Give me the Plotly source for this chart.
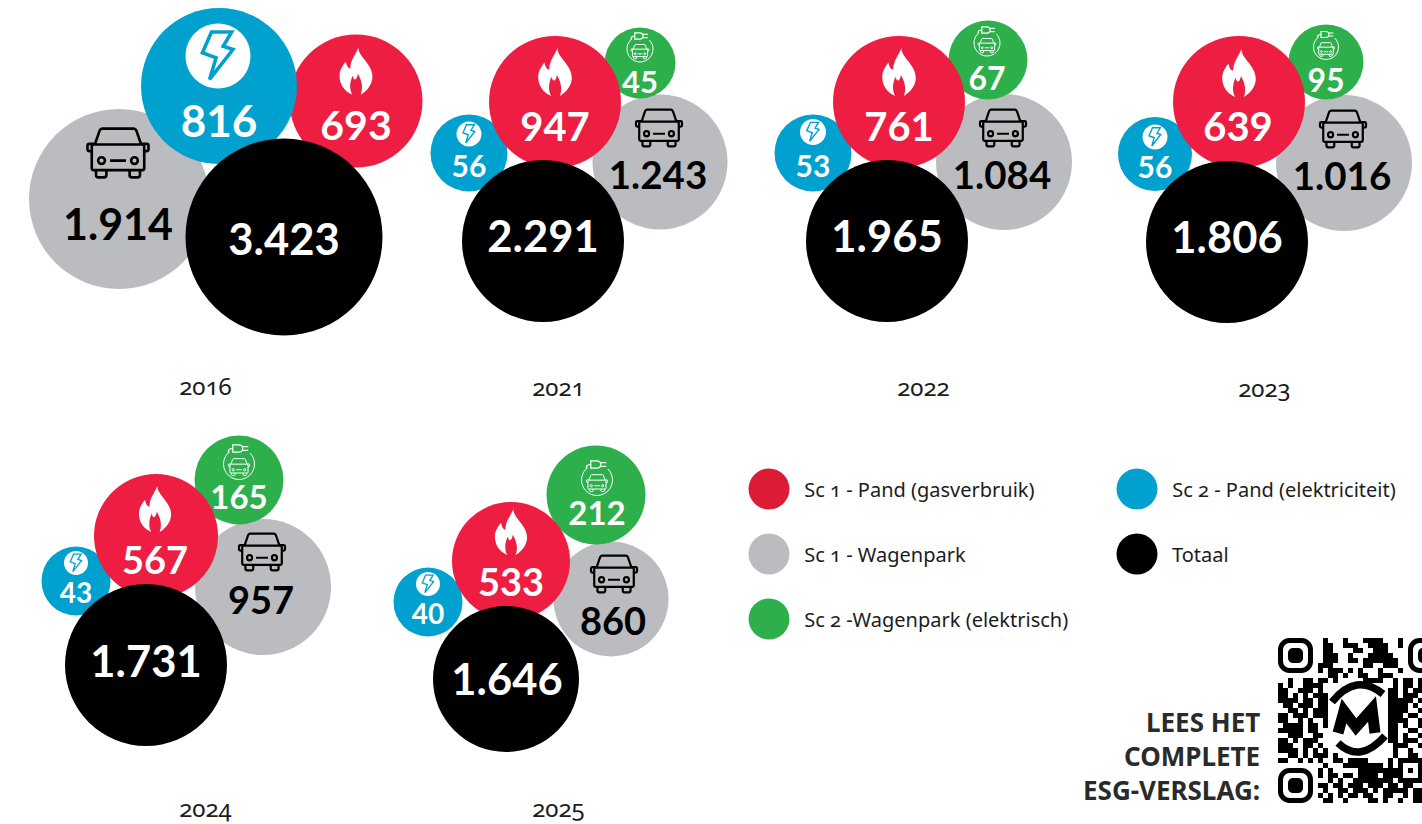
import plotly.graph_objects as go

# ---------- data ----------
years = ["2016", "2021", "2022", "2023", "2024", "2025"]
sc1_pand = [693, 947, 761, 639, 567, 533]
sc1_wagenpark = [1914, 1243, 1084, 1016, 957, 860]
sc2_pand = [816, 56, 53, 56, 43, 40]
sc2_wagenpark = [None, 45, 67, 95, 165, 212]
totaal = [3423, 2291, 1965, 1806, 1731, 1646]

legend_labels = ["Sc 1 - Pand (gasverbruik)", "Sc 1 - Wagenpark", "Sc 2 -Wagenpark (elektrisch)",
                 "Sc 2 - Pand (elektriciteit)", "Totaal"]
qr_caption = ["LEES HET", "COMPLETE", "ESG-VERSLAG:"]

# ---------- layout of the packed bubbles (centre x, centre y, diameter) ----------
geo_red = [(356, 101, 133), (555, 102, 132), (899, 102, 132), (1239, 102, 132), (156, 536, 124), (511, 561, 118)]
geo_gray = [(119, 199, 180), (660, 162, 135), (1004, 162, 136), (1344, 163, 136), (263, 587, 136), (611, 599, 115)]
geo_blue = [(219, 86, 156), (469, 153, 77), (813, 153, 77), (1155, 154, 74), (76, 581, 69), (428, 602, 69)]
geo_green = [None, (640, 63, 71), (988, 60, 79), (1326, 62, 75), (239, 480, 89), (596, 495, 99)]
geo_black = [(284, 237, 197), (543, 241, 162), (887, 241, 162), (1227, 242, 162), (146, 665, 162), (506, 679, 146)]

txt_red = [(356, 130, 41), (555, 131, 40), (899, 131, 40), (1238, 131, 40), (155, 564, 38), (511, 586, 38)]
txt_gray = [(118, 229, 43), (658, 179, 38.5), (1002, 179, 38.5), (1342, 180, 38.5), (261, 604, 38), (613, 625, 38)]
txt_blue = [(219, 126, 44), (469, 169, 30), (813, 169, 30), (1155, 170, 30), (76, 596, 28), (428, 617, 28)]
txt_green = [None, (640, 85, 31), (987, 82, 32), (1326, 84, 32), (239, 501, 33), (597, 517, 33)]
txt_black = [(284, 244, 43.5), (543, 241, 43.5), (887, 241, 43.5), (1227, 242, 43.5), (146, 666, 43.5), (507, 684, 43.5)]

flame_pos = [(356, 71, 47), (555, 72, 48), (899, 72, 48), (1239, 73, 48), (155, 509, 46), (511, 532, 46)]
car_pos = [(118, 153, 61), (659, 128, 46), (1003, 128, 46), (1343, 129, 46), (262, 552, 46), (614, 574, 46)]
bolt_pos = [(218, 56, 65), (469, 134, 25), (813, 132, 26), (1155, 137, 25), (76, 563, 24), (428, 584, 24)]
plug_pos = [None, (640, 49, 26), (987, 43, 26), (1326, 47, 25), (239, 464, 31), (597, 480, 31)]

year_pos = [(205, 385), (558, 386), (923, 386), (1264, 387), (205, 807.5), (558, 807.5)]

legend_pos = [(769, 489), (769, 554), (769, 619), (1137, 489), (1137, 554)]
legend_cols = ["#DC1C37", "#BBBCBF", "#2DB04B", "#00A1CE", "#000000"]

RED, GRAY, BLUE, GREEN, BLACK = "#EE1D42", "#BBBCBF", "#00A1CE", "#2DB04B", "#000000"
LATO = "Lato"
BODY = "Noto Sans"


def nl(v):
    return f"{v:,}".replace(",", ".")


fig = go.Figure()


def bubbles(geos, vals, col):
    g = [(a, v) for a, v in zip(geos, vals) if a]
    fig.add_trace(go.Scatter(x=[a[0] for a, _ in g], y=[a[1] for a, _ in g], mode="markers",
                             marker=dict(size=[a[2] for a, _ in g], sizemode="diameter", color=col, line_width=0, opacity=1),
                             text=[nl(v) for _, v in g], hoverinfo="text", showlegend=False))


# stacking order: gray, green, red, blue (2016) / blue, red, black
bubbles(geo_gray, sc1_wagenpark, GRAY)
bubbles(geo_green, sc2_wagenpark, GREEN)
bubbles(geo_blue[1:], sc2_pand[1:], BLUE)
bubbles(geo_red, sc1_pand, RED)
bubbles(geo_blue[:1], sc2_pand[:1], BLUE)
bubbles(geo_black, totaal, BLACK)


def labels(pos, vals, col):
    for p, v in zip(pos, vals):
        if p is None or v is None:
            continue
        fig.add_trace(go.Scatter(x=[p[0]], y=[p[1]], mode="text", text=[nl(v)], textposition="middle center",
                                 textfont=dict(family=LATO, size=p[2], color=col, weight=700),
                                 hoverinfo="skip", showlegend=False))


labels(txt_gray, sc1_wagenpark, BLACK)
labels(txt_green, sc2_wagenpark, "white")
labels(txt_blue, sc2_pand, "white")
labels(txt_red, sc1_pand, "white")
labels(txt_black, totaal, "white")

# ---------- legend as drawn in the source ----------
fig.add_trace(go.Scatter(x=[p[0] for p in legend_pos], y=[p[1] for p in legend_pos], mode="markers",
                         marker=dict(size=41, color=legend_cols, line_width=0), hoverinfo="skip", showlegend=False))
anns = []
for (x, y), t in zip(legend_pos, legend_labels):
    anns.append(dict(x=x + 33, y=y, text=t, xanchor="left", yanchor="middle", showarrow=False,
                     font=dict(family=BODY, size=20, color="#1c1c1c")))
for (x, y), t in zip(year_pos, years):
    anns.append(dict(x=x, y=y, text=t, xanchor="center", yanchor="middle", showarrow=False, borderpad=0,
                     font=dict(family=BODY, size=24, color="#1c1c1c")))
for y, t in zip([722, 756, 790], qr_caption):
    anns.append(dict(x=1262, y=y, text=f"<b>{t}</b>", xanchor="right", yanchor="middle", showarrow=False,
                     font=dict(family=BODY, size=26, color="#2a2a2a")))

# ---------- QR code ----------
qr_rows = [
    "0000000" "0010001000111100010" "000",
    "0000000" "0011001110011110010" "000",
    "0000000" "0011000011001110000" "000",
    "0000000" "0011100100011111000" "000",
    "0000000" "0011100110111111100" "000",
    "0000000" "0111000000110011100" "000",
    "0000000" "0101110101000100010" "000",
    "0000000" "0001101001100111000" "000",
    "0010011011" "010000011110" "0101101",
    "1010011110" "000000000000" "0101101",
    "1100111010" "000000000000" "1101011",
    "1101010111" "000000000000" "1101110",
    "1111011011" "000000000000" "1111101",
    "0110111011" "000000000000" "1111010",
    "0011010111" "000000000000" "1111001",
    "1101110111" "000000000000" "1110110",
    "1100101001" "000000000000" "1111001",
    "0111101101" "000000000000" "1101001",
    "1111101100" "000000000000" "1100110",
    "0011100110" "000000000000" "1101001",
    "1101011100" "000000000000" "1101110",
    "1110011010" "000000000000" "0111001",
    "1111010101" "000000000000" "0100100",
    "0011010111" "010000000000" "0100110",
    "1100101010" "011011110000" "1011111",
    "00000000" "01000111111110" "10" "10001",
    "0000000" "010100000111111" "11" "10101",
    "0000000" "010110110111101" "11" "10001",
    "0000000" "000101001111111" "10" "11111",
    "0000000" "011011011101110" "11" "01100",
    "0000000" "001001101110101" "11" "11011",
    "0000000" "010101011011001" "10" "01011",
    "0000000" "001100100001101" "00" "10011",
]
qr_z = [[int(c) for c in (r + "0" * 29)[:29]] for r in qr_rows]
fig.add_trace(go.Heatmap(z=qr_z, x0=1280.5, dx=5, y0=640.5, dy=5, zmin=0, zmax=1, showscale=False, hoverinfo="skip",
                         colorscale=[[0, "rgba(255,255,255,0)"], [1, "rgba(0,0,0,1)"]]))

# ---------- icons as vector paths ----------
shapes = []


def P(cx, cy, s, cmds):
    """cmds: list of (letter, x, y, x, y ...) in unit coordinates."""
    out = []
    for c in cmds:
        if c[0] == "Z":
            out.append("Z")
            continue
        nums = c[1:]
        pts = [f"{cx + s * nums[i]:.2f},{cy + s * nums[i + 1]:.2f}" for i in range(0, len(nums), 2)]
        out.append(c[0] + " ".join(pts))
    return " ".join(out)


def circ(x, y, r):
    k = 0.5523 * r
    return [("M", x - r, y), ("C", x - r, y - k, x - k, y - r, x, y - r), ("C", x + k, y - r, x + r, y - k, x + r, y),
            ("C", x + r, y + k, x + k, y + r, x, y + r), ("C", x - k, y + r, x - r, y + k, x - r, y), ("Z",)]


def add(path, fill=None, line=None, w=0):
    shapes.append(dict(type="path", path=path, xref="x", yref="y", layer="above",
                       fillcolor=fill if fill else "rgba(0,0,0,0)",
                       line=dict(color=line if line else "rgba(0,0,0,0)", width=w)))


FLAME = [("M", 0.05, -0.5), ("C", 0.05, -0.3, 0.35, -0.15, 0.35, 0.12), ("C", 0.35, 0.3, 0.2, 0.45, 0.1, 0.5),
         ("C", 0.16, 0.35, 0.12, 0.2, 0.04, 0.06), ("C", 0.02, 0.2, -0.05, 0.22, -0.07, 0.1),
         ("C", -0.13, 0.22, -0.15, 0.38, -0.08, 0.5), ("C", -0.28, 0.42, -0.35, 0.25, -0.35, 0.1),
         ("C", -0.35, -0.02, -0.28, -0.12, -0.22, -0.2), ("C", -0.2, -0.1, -0.16, -0.05, -0.12, -0.05),
         ("C", -0.12, -0.25, 0, -0.35, 0.05, -0.5), ("Z",)]

CAR = [("M", -0.38, -0.14), ("L", -0.30, -0.37), ("C", -0.29, -0.39, -0.28, -0.40, -0.26, -0.40), ("L", 0.26, -0.40),
       ("C", 0.28, -0.40, 0.29, -0.39, 0.30, -0.37), ("L", 0.38, -0.14),
       ("M", -0.40, -0.14), ("L", 0.40, -0.14), ("C", 0.42, -0.14, 0.43, -0.12, 0.43, -0.10), ("L", 0.43, 0.25),
       ("C", 0.43, 0.27, 0.42, 0.28, 0.40, 0.28), ("L", -0.40, 0.28), ("C", -0.42, 0.28, -0.43, 0.27, -0.43, 0.25),
       ("L", -0.43, -0.10), ("C", -0.43, -0.12, -0.42, -0.14, -0.40, -0.14), ("Z",),
       ("M", -0.43, -0.03), ("L", -0.47, -0.03), ("C", -0.49, -0.03, -0.5, -0.04, -0.5, -0.06), ("L", -0.5, -0.12),
       ("C", -0.5, -0.14, -0.49, -0.15, -0.47, -0.15), ("L", -0.40, -0.15),
       ("M", 0.43, -0.03), ("L", 0.47, -0.03), ("C", 0.49, -0.03, 0.5, -0.04, 0.5, -0.06), ("L", 0.5, -0.12),
       ("C", 0.5, -0.14, 0.49, -0.15, 0.47, -0.15), ("L", 0.40, -0.15),
       ("M", -0.36, 0.28), ("L", -0.36, 0.36), ("C", -0.36, 0.39, -0.34, 0.40, -0.32, 0.40), ("L", -0.23, 0.40),
       ("C", -0.21, 0.40, -0.19, 0.39, -0.19, 0.36), ("L", -0.19, 0.28),
       ("M", 0.36, 0.28), ("L", 0.36, 0.36), ("C", 0.36, 0.39, 0.34, 0.40, 0.32, 0.40), ("L", 0.23, 0.40),
       ("C", 0.21, 0.40, 0.19, 0.39, 0.19, 0.36), ("L", 0.19, 0.28),
       ("M", -0.13, 0.125), ("L", 0.13, 0.125)] + circ(-0.27, 0.125, 0.055) + circ(0.27, 0.125, 0.055)

BOLT = [("M", -0.10, -0.37), ("L", 0.21, -0.37), ("L", 0.08, -0.15), ("L", 0.23, -0.10), ("L", -0.13, 0.36),
        ("L", -0.03, 0.03), ("L", -0.24, -0.05), ("Z",)]

PLUG = [("M", -0.20, -0.62), ("L", -0.02, -0.62), ("C", 0.08, -0.62, 0.12, -0.56, 0.12, -0.50),
        ("C", 0.12, -0.44, 0.08, -0.38, -0.02, -0.38), ("L", -0.20, -0.38), ("Z",),
        ("M", 0.12, -0.56), ("L", 0.30, -0.56), ("M", 0.12, -0.44), ("L", 0.30, -0.44),
        ("M", -0.20, -0.50), ("C", -0.32, -0.50, -0.36, -0.44, -0.34, -0.36)]

for x, y, h in flame_pos:
    add(P(x, y, h, FLAME), fill="white")
for x, y, w in car_pos:
    add(P(x, y, w, CAR), line="black", w=2.6 if w > 50 else 2.2)
for x, y, d in bolt_pos:
    add(P(x, y, d, circ(0, 0, 0.5)), fill="white")
    add(P(x, y, d, BOLT), line=BLUE, w=max(1.3, d * 0.055))
for item in plug_pos:
    if item is None:
        continue
    x, y, d = item
    add(P(x, y, d, circ(0, 0, 0.5)), line="white", w=1)
    add(P(x, y, d, [("M", -0.30, -0.62), ("L", 0.36, -0.62), ("L", 0.36, -0.34), ("L", -0.30, -0.34), ("Z",)]), fill=GREEN)
    add(P(x, y, d, PLUG), line="white", w=1.2)
    add(P(x, y + d * 0.1, d * 0.68, CAR), line="white", w=1)


def rrect(x0, y0, x1, y1, r):
    k = r * 0.45
    return (f"M{x0 + r},{y0} L{x1 - r},{y0} C{x1 - k},{y0} {x1},{y0 + k} {x1},{y0 + r} L{x1},{y1 - r} "
            f"C{x1},{y1 - k} {x1 - k},{y1} {x1 - r},{y1} L{x0 + r},{y1} C{x0 + k},{y1} {x0},{y1 - k} {x0},{y1 - r} "
            f"L{x0},{y0 + r} C{x0},{y0 + k} {x0 + k},{y0} {x0 + r},{y0} Z")


for fx, fy in [(1278, 638), (1408, 638), (1278, 768)]:
    add(rrect(fx + 2.5, fy + 2.5, fx + 32.5, fy + 32.5, 9), line="black", w=5)
    add(rrect(fx + 10, fy + 10, fx + 25, fy + 25, 5), fill="black")

# logo in the middle of the QR code
add("M1332,702 Q1356,672 1383,694", line="black", w=7.5)
add("M1338,743 Q1360,764 1385,736", line="black", w=7.5)
add("M1338,733 L1344,711 L1356,727 L1372,709 L1375,733", line="black", w=11)

# clipped closing bracket of the legend text
shapes.append(dict(type="rect", x0=1071.5, x1=1090, y0=605, y1=635, xref="x", yref="y", layer="above",
                   fillcolor="white", line_width=0))

fig.update_layout(
    width=1422, height=824, margin=dict(l=0, r=0, t=0, b=0), paper_bgcolor="white", plot_bgcolor="white",
    xaxis=dict(range=[0, 1422], visible=False, fixedrange=True),
    yaxis=dict(range=[824, 0], visible=False, fixedrange=True),
    shapes=shapes, annotations=anns, showlegend=False,
)

post = """
document.documentElement.style.margin='0';document.body.style.margin='0';document.body.style.overflow='hidden';
document.querySelectorAll('.annotation-text').forEach(function(t){t.style.fontVariantNumeric='oldstyle-nums';t.style.fontFeatureSettings='"onum"';});
"""
fig.write_html("out.html", post_script=post, config={"displayModeBar": False})
